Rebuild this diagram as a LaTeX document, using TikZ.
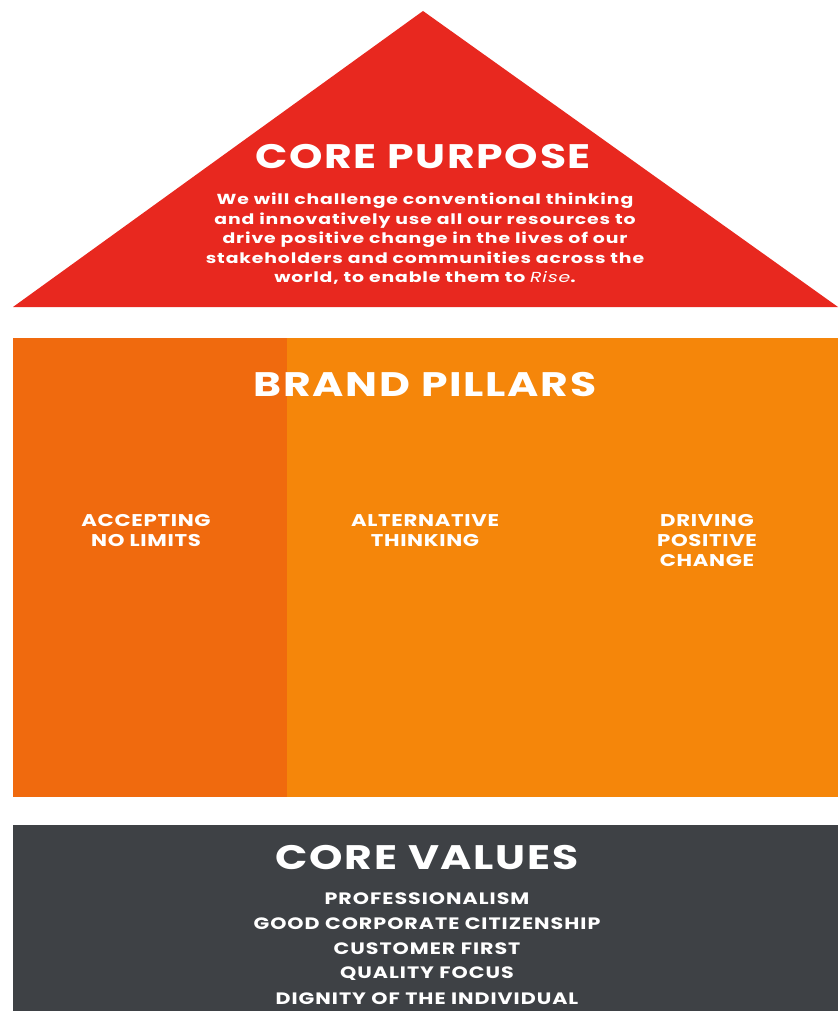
\documentclass[tikz,border=0pt]{standalone}
\usepackage{fontspec}
\setmainfont{Poppins}
\newfontfamily\hfont{Poppins}[FakeStretch=1.25,LetterSpace=5]
\newfontfamily\bfont{Poppins}[FakeStretch=1.3,LetterSpace=6]
\newfontfamily\pfont{Poppins}[FakeStretch=1.25,LetterSpace=4]
\newfontfamily\vfont{Poppins}[FakeStretch=1.25,LetterSpace=6]
\definecolor{cpred}{HTML}{E8281F}
\definecolor{pildark}{HTML}{F06A0E}
\definecolor{pillight}{HTML}{F5860A}
\definecolor{valgray}{HTML}{3E4145}
\begin{document}
\begin{tikzpicture}[x=1pt,y=-1pt,
  heading/.style={text=white,font=\hfont\fontsize{34}{36}\selectfont\bfseries,inner sep=0pt},
  body/.style={text=white,font=\bfont\fontsize{14.5}{19.5}\selectfont\bfseries,align=center,inner sep=0pt},
  pillar/.style={text=white,font=\pfont\fontsize{17}{20}\selectfont\bfseries,align=center,inner sep=0pt,anchor=north},
  value/.style={text=white,font=\vfont\fontsize{16.5}{18}\selectfont\bfseries,inner sep=0pt}]
\useasboundingbox (0,0) rectangle (838,1011);
\fill[white] (0,0) rectangle (838,1011);
% triangle
\fill[cpred] (423,11) -- (838,307) -- (13,307) -- cycle;
% pillars
\fill[pillight] (13,338) rectangle (838,797);
\fill[pildark] (13,338) rectangle (287,797);
% values
\fill[valgray] (13,825) rectangle (838,1011);
\node[heading] (cp) at (423,157) {CORE PURPOSE};
\node[body] (cpt) at (425,239) {We will challenge conventional thinking\\and innovatively use all our resources to\\drive positive change in the lives of our\\stakeholders and communities across the\\world, to enable them to {\mdseries\itshape Rise}.};
\node[heading] (bp) at (425,385) {BRAND PILLARS};
\node[pillar] (p1) at (146,514) {ACCEPTING\\NO LIMITS};
\node[pillar] (p2) at (425,514) {ALTERNATIVE\\THINKING};
\node[pillar] (p3) at (707,514) {DRIVING\\POSITIVE\\CHANGE};
\node[heading] (cv) at (427,858) {CORE VALUES};
\node[value] (v1) at (427,899) {PROFESSIONALISM};
\node[value] (v2) at (427,924) {GOOD CORPORATE CITIZENSHIP};
\node[value] (v3) at (427,949) {CUSTOMER FIRST};
\node[value] (v4) at (427,974) {QUALITY FOCUS};
\node[value] (v5) at (427,999) {DIGNITY OF THE INDIVIDUAL};
\end{tikzpicture}
\end{document}
